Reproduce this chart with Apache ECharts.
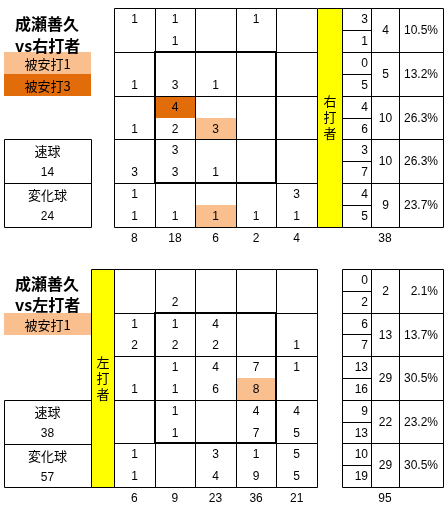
<!DOCTYPE html>
<html><head><meta charset="utf-8">
<script src="https://cdn.jsdelivr.net/npm/echarts@6/dist/echarts.min.js"></script>
<style>html,body{margin:0;padding:0;background:#fff}#c{width:447px;height:512px}</style>
</head><body><div id="c"></div><script>
const pitcher = '成瀬善久';

// ---- vs right-handed batters (10 half-rows x 5 columns) ----
const rightTitle = 'vs右打者';
const rightBand = '右打者';
const rightCells = [
  [1,1,null,1,null],
  [null,1,null,null,null],
  [null,null,null,null,null],
  [1,3,1,null,null],
  [null,4,null,null,null],
  [1,2,3,null,null],
  [null,3,null,null,null],
  [3,3,1,null,null],
  [1,null,null,null,3],
  [1,1,1,1,1]
];
const rightHits = [[4,1,3],[5,2,1],[9,2,1]]; // [halfRow, col, hits]
const rightColTotals = ['8','18','6','2','4'];
const rightHalfCounts = [3,1,0,5,4,6,3,7,4,5];
const rightRowTotals = [4,5,10,10,9];
const rightRowPct = ['10.5%','13.2%','26.3%','26.3%','23.7%'];
const rightTotal = '38';
const rightPitchTypes = ['速球','変化球'];
const rightPitchCounts = [14,24];
const rightLegend = [['被安打1',1],['被安打3',3]];

// ---- vs left-handed batters ----
const leftTitle = 'vs左打者';
const leftBand = '左打者';
const leftCells = [
  [null,null,null,null,null],
  [null,2,null,null,null],
  [1,1,4,null,null],
  [2,2,2,null,1],
  [null,1,4,7,1],
  [1,1,6,8,null],
  [null,1,null,4,4],
  [null,1,null,7,5],
  [1,null,3,1,5],
  [1,null,4,9,5]
];
const leftHits = [[5,3,1]];
const leftColTotals = ['6','9','23','36','21'];
const leftHalfCounts = [0,2,6,7,13,16,9,13,10,19];
const leftRowTotals = [2,13,29,22,29];
const leftRowPct = ['2.1%','13.7%','30.5%','23.2%','30.5%'];
const leftTotal = '95';
const leftPitchTypes = ['速球','変化球'];
const leftPitchCounts = [38,57];
const leftLegend = [['被安打1',1]];

const strikeZone = [1,2,4,8]; // col0, halfRow0, col1, halfRow1

const NUM = '"Liberation Sans", Arial, sans-serif';
const JP = '"Noto Sans CJK JP", sans-serif';
const HIT = {1:'#FABF8F', 3:'#E26B0A'};

const opt = {animation:false, backgroundColor:'#fff', title:[], grid:[], xAxis:[], yAxis:[], series:[]};

function addGrid(box, xmax, ymax, labels){
  const gi = opt.grid.length;
  opt.grid.push({left:box[0], top:box[1], width:box[2], height:box[3], containLabel:false});
  const xi = opt.xAxis.length;
  opt.xAxis.push({type:'value', gridIndex:gi, min:0, max:xmax, show:false});
  const yi = opt.yAxis.length;
  opt.yAxis.push({type:'value', gridIndex:gi, min:0, max:ymax, inverse:true, show:false});
  if (labels) {
    opt.xAxis.push({type:'category', gridIndex:gi, data:labels, position:'bottom', boundaryGap:true,
      axisLine:{show:false}, axisTick:{show:false}, splitLine:{show:false},
      axisLabel:{margin:6, fontSize:12, color:'#000', fontFamily:NUM, interval:0}});
  }
  return {xAxisIndex:xi, yAxisIndex:yi};
}
function addCustom(ax, data, render, z){
  opt.series.push(Object.assign({type:'custom', data:data, renderItem:render, z:z||2, silent:true, clip:false}, ax));
}
function R(api, x0, y0, x1, y1){
  const a = api.coord([x0,y0]), b = api.coord([x1,y1]);
  const l = Math.round(Math.min(a[0],b[0])), r = Math.round(Math.max(a[0],b[0]));
  const t = Math.round(Math.min(a[1],b[1])), bo = Math.round(Math.max(a[1],b[1]));
  return {x:l, y:t, width:r-l, height:bo-t};
}
function box1(s, lw){
  const o = lw % 2 ? 0.5 : 0;
  return {type:'rect', shape:{x:s.x+o, y:s.y+o, width:s.width, height:s.height},
    style:{fill:null, stroke:'#000', lineWidth:lw}};
}
function T(x, y, text, extra){
  return {type:'text', style:Object.assign({x:x, y:y, text:text, fill:'#000', fontSize:12, fontFamily:NUM,
    align:'center', verticalAlign:'middle'}, extra||{})};
}

function mainPanel(box, cells, hits, colTotals){
  const ax = addGrid(box, 5, 10, colTotals);
  const hitAt = {};
  hits.forEach(h => hitAt[h[0]+'_'+h[1]] = h[2]);
  const halves = [];
  cells.forEach((row, hr) => row.forEach((v, c) => halves.push([c, hr])));
  addCustom(ax, halves, (p, api) => {
    const c = api.value(0), hr = api.value(1);
    const s = R(api, c, hr, c+1, hr+1);
    const ch = [];
    const h = hitAt[hr+'_'+c];
    if (h) ch.push({type:'rect', shape:s, style:{fill:HIT[h]}});
    const v = cells[hr][c];
    if (v != null) ch.push(T(s.x + s.width/2, s.y + s.height/2 + 1, String(v)));
    return {type:'group', children:ch};
  }, 1);
  const full = [];
  for (let r = 0; r < 5; r++) for (let c = 0; c < 5; c++) full.push([c, r*2]);
  addCustom(ax, full, (p, api) => {
    const c = api.value(0), r = api.value(1);
    return box1(R(api, c, r, c+1, r+2), 1);
  }, 2);
  addCustom(ax, [strikeZone], (p, api) =>
    box1(R(api, api.value(0), api.value(1), api.value(2), api.value(3)), 2), 3);
}

function bandPanel(box, label){
  const ax = addGrid(box, 1, 1);
  addCustom(ax, [[0,0]], (p, api) => {
    const s = R(api, 0, 0, 1, 1);
    return {type:'group', children:[
      {type:'rect', shape:s, style:{fill:'#FFFF00'}},
      box1(s, 1),
      T(s.x + s.width/2 + 0.5, s.y + s.height/2, label.split('').join('\n'), {fontFamily:JP, fontSize:13, lineHeight:16})
    ]};
  });
}

function countPanels(top, h, halfCounts, rowTotals, rowPct, total){
  let ax = addGrid([342, top, 29, h], 1, 10);
  addCustom(ax, halfCounts.map((v, i) => [0, i]), (p, api) => {
    const i = api.value(1);
    const s = R(api, 0, i, 1, i+1);
    return {type:'group', children:[box1(s, 1),
      T(s.x + s.width - 3, s.y + s.height/2 + 1, String(halfCounts[i]), {align:'right'})]};
  });
  ax = addGrid([371, top, 28, h], 1, 5, [total]);
  addCustom(ax, rowTotals.map((v, i) => [0, i]), (p, api) => {
    const i = api.value(1);
    const s = R(api, 0, i, 1, i+1);
    return {type:'group', children:[box1(s, 1),
      T(s.x + s.width/2 + 0.5, s.y + s.height/2 + 1, String(rowTotals[i]))]};
  });
  ax = addGrid([399, top, 44, h], 1, 5);
  addCustom(ax, rowPct.map((v, i) => [0, i]), (p, api) => {
    const i = api.value(1);
    const s = R(api, 0, i, 1, i+1);
    return {type:'group', children:[box1(s, 1),
      T(s.x + s.width - 5, s.y + s.height/2 + 1, rowPct[i], {align:'right'})]};
  });
}

function legendPanel(box, items){
  const ax = addGrid(box, 1, items.length);
  addCustom(ax, items.map((it, i) => [0, i]), (p, api) => {
    const i = api.value(1);
    const s = R(api, 0, i, 1, i+1);
    return {type:'group', children:[
      {type:'rect', shape:s, style:{fill:HIT[items[i][1]]}},
      T(s.x + s.width/2, s.y + s.height/2 + 1, items[i][0], {fontFamily:JP, fontSize:13})]};
  });
}

function pitchPanel(box, names, counts){
  const ax = addGrid(box, 1, names.length*2);
  addCustom(ax, names.map((n, i) => [0, i*2]), (p, api) => {
    const r = api.value(1), i = r/2;
    const s = R(api, 0, r, 1, r+2);
    return {type:'group', children:[box1(s, 1),
      T(s.x + s.width/2, s.y + s.height/4 + 1, names[i], {fontFamily:JP, fontSize:13}),
      T(s.x + s.width/2, s.y + s.height*3/4 + 1, String(counts[i]), {fontSize:12})]};
  });
}

// top panel: vs right
opt.title.push({text: pitcher + '\n' + rightTitle, left:15, top:13, padding:0,
  textStyle:{fontFamily:JP, fontSize:16, fontWeight:'bold', lineHeight:22, color:'#000'}});
mainPanel([114, 8, 203, 219], rightCells, rightHits, rightColTotals);
bandPanel([317, 8, 25, 219], rightBand);
countPanels(8, 219, rightHalfCounts, rightRowTotals, rightRowPct, rightTotal);
legendPanel([4, 52, 87, 44], rightLegend);
pitchPanel([4, 139, 87, 88], rightPitchTypes, rightPitchCounts);

// bottom panel: vs left
opt.title.push({text: pitcher + '\n' + leftTitle, left:15, top:273, padding:0,
  textStyle:{fontFamily:JP, fontSize:16, fontWeight:'bold', lineHeight:21, color:'#000'}});
bandPanel([91, 269, 23, 218], leftBand);
mainPanel([114, 269, 203, 218], leftCells, leftHits, leftColTotals);
countPanels(269, 218, leftHalfCounts, leftRowTotals, leftRowPct, leftTotal);
legendPanel([4, 313, 87, 22], leftLegend);
pitchPanel([4, 400, 87, 87], leftPitchTypes, leftPitchCounts);

const chart = echarts.init(document.getElementById('c'), null, {renderer:'canvas'});
chart.setOption(opt);
</script></body></html>
